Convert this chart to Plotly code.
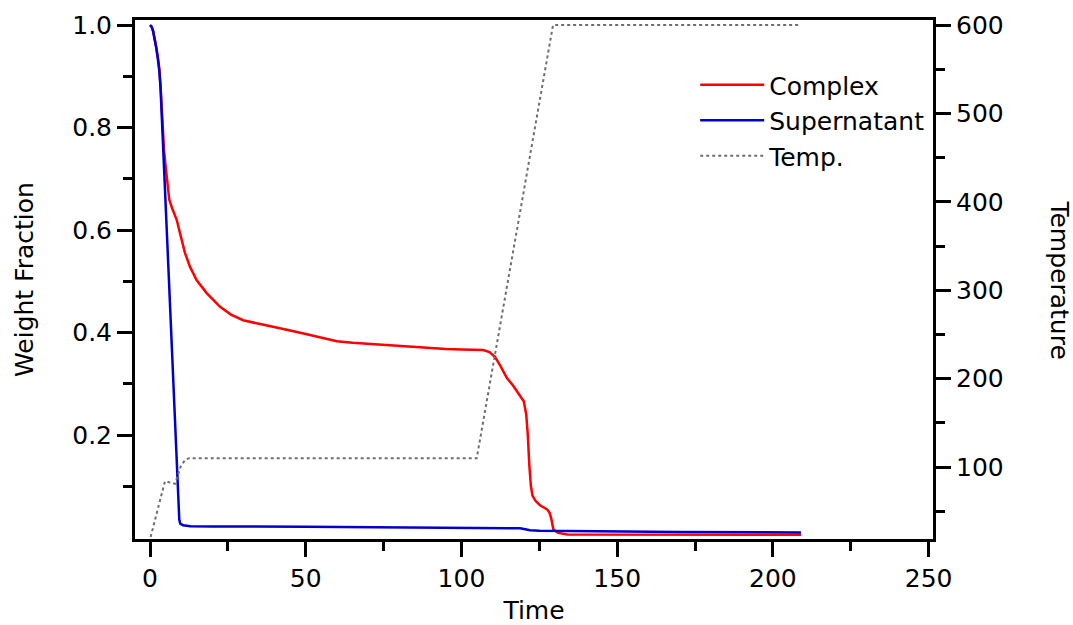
import plotly.graph_objects as go

# ---- data ----
complex_t = [0, 0.5, 1.0, 1.5, 2.0, 2.5, 3.0, 3.4, 3.76, 4.5, 5.14, 5.78, 6.2, 7.07, 8.03,
             8.57, 9.63, 11.24, 12.85, 15.0, 18.2, 22.5, 26, 29.9, 35, 40, 45, 50, 55, 60,
             65, 70, 80, 86.7, 95, 100, 107, 109, 110.8, 112.5, 114.6, 116.5, 118.8, 120,
             120.8, 121.3, 121.8, 122.3, 122.8, 123.7, 125.2, 127.5, 128.3, 128.8, 129.5,
             131, 134, 150, 180, 209]
complex_v = [1.0, 0.997, 0.988, 0.974, 0.957, 0.938, 0.914, 0.88, 0.83, 0.756, 0.717, 0.678,
             0.659, 0.643, 0.629, 0.62, 0.594, 0.555, 0.528, 0.502, 0.477, 0.45, 0.435,
             0.424, 0.417, 0.411, 0.404, 0.397, 0.39, 0.383, 0.38, 0.378, 0.374, 0.37, 0.368,
             0.367, 0.366, 0.362, 0.352, 0.335, 0.311, 0.297, 0.278, 0.266, 0.24, 0.2, 0.14,
             0.1, 0.082, 0.072, 0.063, 0.055, 0.048, 0.038, 0.016, 0.009, 0.006, 0.006,
             0.0055, 0.0055]

super_t = [0, 0.5, 1.0, 1.5, 2.0, 2.5, 3.0, 3.4, 3.75, 4.5, 5.5, 6.5, 7.5, 8.5, 9.1, 9.4,
           9.7, 10.6, 13, 20, 50, 100, 116, 118.8, 120.5, 122, 125, 140, 170, 209]
super_v = [1.0, 0.997, 0.988, 0.973, 0.955, 0.935, 0.91, 0.875, 0.83, 0.724, 0.583, 0.443,
           0.302, 0.161, 0.077, 0.035, 0.027, 0.024, 0.022, 0.0215, 0.021, 0.0195, 0.019,
           0.018, 0.016, 0.014, 0.013, 0.012, 0.011, 0.0098]

temp_t = [0.2, 4.8, 5.8, 8.0, 9.8, 11.2, 12.5, 104.9, 129.4, 209]
temp_v = [21, 84, 83, 81, 100, 108, 110, 110, 600, 600]

x_ticks = [0, 50, 100, 150, 200, 250]
x_minor = [25, 75, 125, 175, 225]
y_ticks = [0.2, 0.4, 0.6, 0.8, 1.0]
y_minor = [0.1, 0.3, 0.5, 0.7, 0.9]
y2_ticks = [100, 200, 300, 400, 500, 600]
y2_minor = [50, 150, 250, 350, 450, 550]

FONT = "DejaVu Sans"
TICK_SIZE = 25
TITLE_SIZE = 25

fig = go.Figure()
fig.add_trace(go.Scatter(x=complex_t, y=complex_v, name="Complex", mode="lines",
                         line=dict(color="#ff0000", width=2.5), legendrank=1))
fig.add_trace(go.Scatter(x=super_t, y=super_v, name="Supernatant", mode="lines",
                         line=dict(color="#0000cc", width=2.5), legendrank=2))
fig.add_trace(go.Scatter(x=temp_t, y=temp_v, name="Temp.", mode="lines", yaxis="y2",
                         line=dict(color="#6e6e6e", width=2, dash="dot"), legendrank=3))

axis_common = dict(showline=True, linewidth=3, linecolor="black", ticks="outside",
                   ticklen=15, tickwidth=3, tickcolor="black", showgrid=False,
                   zeroline=False, automargin=False,
                   tickfont=dict(size=TICK_SIZE, color="black", family=FONT))
minor_common = dict(ticklen=9, tickwidth=3, tickcolor="black", ticks="outside")

fig.update_layout(
    width=1073, height=625,
    margin=dict(l=135, r=140, t=20, b=86),
    paper_bgcolor="white", plot_bgcolor="white",
    font=dict(family=FONT, size=TITLE_SIZE, color="black"),
    xaxis=dict(range=[-4.82, 251.4], tickvals=x_ticks, mirror=True,
               minor=dict(tickvals=x_minor, **minor_common),
               title=dict(text="Time", font=dict(size=TITLE_SIZE), standoff=18),
               **axis_common),
    yaxis=dict(range=[-0.0029, 1.0098], tickvals=y_ticks, tickformat=".1f",
               minor=dict(tickvals=y_minor, **minor_common),
               title=dict(text="Weight Fraction", font=dict(size=TITLE_SIZE), standoff=32),
               **axis_common),
    yaxis2=dict(range=[18.6, 605.7], tickvals=y2_ticks, overlaying="y", side="right",
                minor=dict(tickvals=y2_minor, **minor_common),
                **axis_common),
    legend=dict(x=0.702, y=0.919, xanchor="left", yanchor="top", bgcolor="rgba(0,0,0,0)",
                font=dict(size=TITLE_SIZE, family=FONT), itemwidth=64, tracegroupgap=0),
    showlegend=True,
    annotations=[dict(text="Temperature", xref="paper", yref="paper", x=1.158, y=0.5,
                      textangle=90, showarrow=False, xanchor="center", yanchor="middle",
                      font=dict(size=TITLE_SIZE, family=FONT, color="black"))],
)

fig.write_html("out.html")
